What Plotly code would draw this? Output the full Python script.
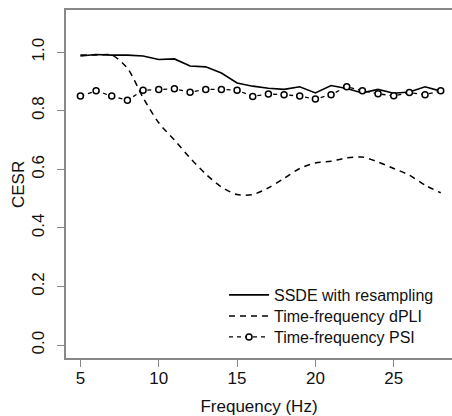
import plotly.graph_objects as go

freq = list(range(5, 29))
ssde = [0.987, 0.992, 0.990, 0.990, 0.987, 0.975, 0.977, 0.953, 0.950, 0.929, 0.895,
        0.884, 0.877, 0.873, 0.882, 0.861, 0.886, 0.876, 0.861, 0.873, 0.860, 0.864,
        0.882, 0.867]
dpli = [0.990, 0.990, 0.990, 0.945, 0.845, 0.759, 0.700, 0.639, 0.584, 0.540, 0.514,
        0.514, 0.537, 0.569, 0.603, 0.622, 0.628, 0.639, 0.642, 0.625, 0.603, 0.580,
        0.546, 0.520]
psi = [0.850, 0.868, 0.850, 0.836, 0.870, 0.873, 0.875, 0.863, 0.873, 0.873, 0.870,
       0.849, 0.857, 0.855, 0.850, 0.840, 0.855, 0.882, 0.868, 0.858, 0.851, 0.862,
       0.855, 0.868]
names = ["SSDE with resampling", "Time-frequency dPLI", "Time-frequency PSI"]
xticks = [5, 10, 15, 20, 25]
yticks = [0.0, 0.2, 0.4, 0.6, 0.8, 1.0]

fig = go.Figure()
fig.add_trace(go.Scatter(x=freq, y=ssde, mode="lines", name=names[0], legend="legend",
                         line=dict(color="black", width=1.6)))
fig.add_trace(go.Scatter(x=freq, y=dpli, mode="lines", name=names[1], legend="legend2",
                         line=dict(color="black", width=1.5, dash="6px,5px",
                                   shape="spline", smoothing=0.8)))
fig.add_trace(go.Scatter(x=freq, y=psi, mode="lines+markers", name=names[2], legend="legend3",
                         line=dict(color="black", width=1.3, dash="4px,4px"),
                         marker=dict(symbol="circle", size=6, color="white",
                                     line=dict(color="black", width=1.5))))

axis_color = "#888888"
W, H = 452, 416
PL, PT, PB = 66, 10, 358


def py(p):
    return (PB - p) / (PB - PT)


def px(p):
    return (p - PL) / (W - PL)


leg = dict(x=px(224), xanchor="left", yanchor="middle", bgcolor="rgba(0,0,0,0)",
           font=dict(size=16), itemwidth=40)

fig.update_layout(
    width=W, height=H,
    margin=dict(l=PL, r=0, t=PT, b=H - PB, autoexpand=False),
    paper_bgcolor="white", plot_bgcolor="white",
    font=dict(family="Liberation Sans, Arial, sans-serif", size=17, color="#111111"),
    showlegend=True,
    legend=dict(leg, y=py(295)),
    legend2=dict(leg, y=py(316)),
    legend3=dict(leg, y=py(337)),
    xaxis=dict(range=[4.08, 28.72], tickvals=xticks, ticktext=[str(v) for v in xticks],
               automargin=False,
               showgrid=False, zeroline=False, showline=True, mirror=True,
               linecolor=axis_color, linewidth=1.5,
               ticks="outside", ticklen=7, tickcolor=axis_color, tickwidth=1,
               tickfont=dict(size=17), ticklabelstandoff=-3,
               title=dict(text="Frequency (Hz)", font=dict(size=17))),
    yaxis=dict(range=[-0.044, 1.144], tickvals=yticks, ticktext=[f"{v:.1f}" for v in yticks],
               automargin=False,
               showgrid=False, zeroline=False, showline=True, mirror=False,
               linecolor=axis_color, linewidth=1.5,
               ticks="outside", ticklen=7, tickcolor=axis_color, tickwidth=1,
               tickangle=-90, tickfont=dict(size=17), ticklabelstandoff=6),
    annotations=[dict(text="CESR", xref="paper", yref="paper", x=px(18), y=py(185),
                      xanchor="center", yanchor="middle", textangle=-90,
                      showarrow=False, font=dict(size=17))],
)

fig.write_html("out.html", config={"displayModeBar": False},
               post_script="document.body.style.margin='0';")
